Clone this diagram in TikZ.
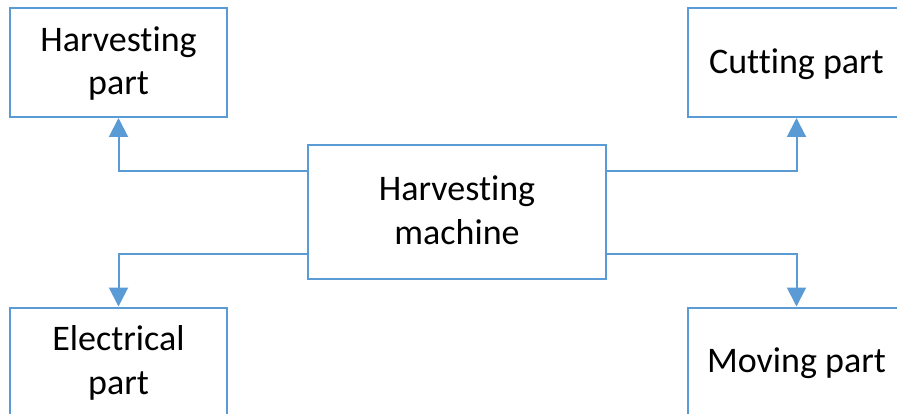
\documentclass[tikz,border=0pt]{standalone}
\usepackage{fontspec}
\setmainfont[Ligatures=NoCommon]{Carlito}
\usetikzlibrary{arrows.meta}
\definecolor{bl}{RGB}{91,155,213}
\newcommand\lbl[1]{\raisebox{-2pt}[\height][\depth]{\begin{tabular}{@{}c@{}}#1\end{tabular}}}
\tikzset{
  box/.style={draw=bl, line width=2pt, minimum width=217pt, minimum height=109pt, inner sep=0pt, font=\fontsize{36}{43.5}\selectfont, text=black},
  tipstyle/.tip={Triangle[width=19pt,length=19pt]},
  conn/.style={draw=bl, line width=2pt, arrows={-tipstyle}}
}
\begin{document}
\begin{tikzpicture}[x=1pt,y=1pt]
\useasboundingbox (0,0) rectangle (897,-414);
\node[box] (hp) at (118.5,-62.5) {\lbl{Harvesting\\part}};
\node[box] (cp) at (796.5,-62.5) {\lbl{Cutting part}};
\node[box] (ep) at (118.5,-362) {\lbl{Electrical\\part}};
\node[box] (mp) at (796.5,-362) {\lbl{Moving part}};
\node[box, minimum width=298pt, minimum height=134pt] (hm) at (457,-212) {\lbl{Harvesting\\machine}};
\draw[conn] ([yshift=-27pt]hm.north west) -| (hp.south);
\draw[conn] ([yshift=-27pt]hm.north east) -| (cp.south);
\draw[conn] ([yshift=26pt]hm.south west) -| (ep.north);
\draw[conn] ([yshift=26pt]hm.south east) -| (mp.north);
\end{tikzpicture}
\end{document}
